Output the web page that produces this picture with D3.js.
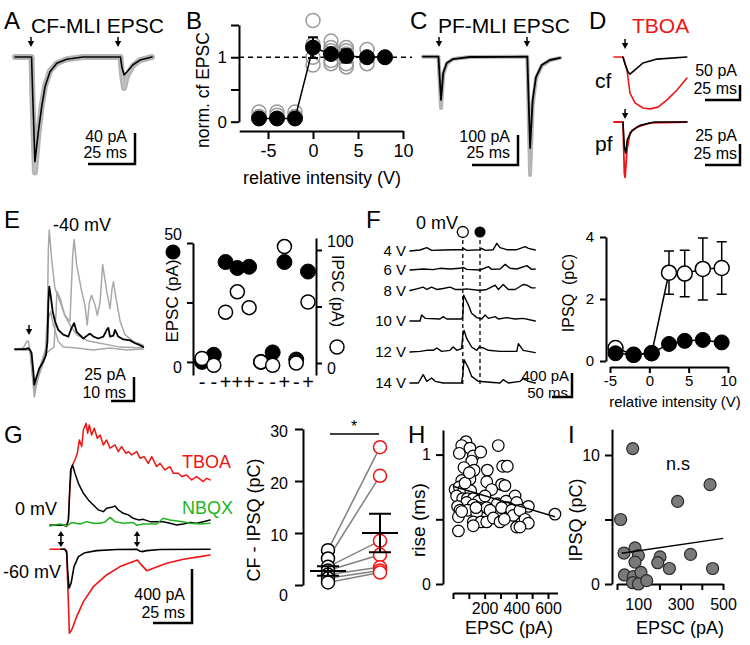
<!DOCTYPE html>
<html><head><meta charset="utf-8">
<script src="https://cdn.jsdelivr.net/npm/d3@7"></script>
<style>body{margin:0;background:#fff}svg{display:block}</style>
</head><body>
<svg id="fig" width="750" height="645"></svg>
<script>
// ---------------- DATA ----------------
// Panel A: CF-MLI EPSC (ms, pA)
const aStim = [8.5, 54.8];
const aBlack = [[0,0],[8.8,0],[9.2,-33],[10.6,-135],[12.4,-97],[14.2,-64],[16,-38],[18.6,-19],[22.2,-8],[27.5,-3],[36.2,0],[56.1,0],[56.9,-14],[58,-23],[59.6,-19],[62.8,-10],[66.5,-4],[72.9,0]];
const aGray = [[0,0],[8.8,0],[9.2,-45],[10.6,-149],[12.4,-100],[14.2,-63],[16,-37],[18.6,-18],[22.2,-8],[27.5,-3],[36.2,0],[56.1,0],[56.9,-22],[58,-40],[59.6,-24],[62.8,-11],[66.5,-4],[72.9,0]];
// Panel B
const bX = [-6,-4,-2,0,2,3.7,6,8];
const bMean = [0.05,0.05,0.05,1.15,1.05,1.02,1.0,1.0];
const bSem = [0.02,0.02,0.02,0.16,0.05,0.1,0.04,0.02];
const bCellX = [-6,-6,-4,-4,-2,-2,0,0,0,0,2,2,2,2,2,3.7,3.7,3.7,3.7,3.7,6,6,8];
const bCellY = [0.15,0.08,0.15,0.1,0.15,0.08,1.57,0.88,1.0,1.2,1.25,1.15,0.95,0.9,1.1,1.15,1.05,0.9,0.85,1.1,1.12,0.9,1.0];
// Panel C: PF-MLI EPSC
const cStim = [8.7, 56.5];
const cBlack = [[0,0],[8.4,0],[9.8,-144],[11,-54],[12.9,-21],[16.3,-8],[25.5,-1],[56.7,0],[58.2,-304],[59.6,-144],[61.4,-68],[64.5,-28],[69,-11],[74.5,-4]];
const cGray = [[0,0],[8.4,0],[9.8,-171],[11,-60],[12.9,-23],[16.3,-8],[25.5,-1],[56.7,0],[58.2,-394],[59.6,-160],[61.4,-72],[64.5,-30],[69,-12],[74.5,-4]];
// Panel D
const dStim = [7.9];
const dCfBlack = [[6.4,0],[7.9,-23],[10,-50],[11.4,-57],[15,-43],[20.7,-20],[30.7,-7],[52,0]];
const dCfRed = [[0,0],[6.4,0],[9.3,-43],[11.4,-120],[15,-153],[20.7,-170],[25.7,-173],[31.4,-167],[37.9,-143],[45,-110],[52.1,-70]];
const dPfBlack = [[6.4,0],[7.4,-30],[8.4,-37],[9.5,-21],[12.9,-10],[18.6,-4],[29,0],[52,0]];
const dPfRed = [[0,0],[6.4,0],[7.4,-61],[7.9,-66],[9.3,-33],[11.4,-13],[16.4,-6],[25.7,-1],[52,0]];
// Panel E left: -40 mV traces
const eStim = [6.1];
const eBlack = [[0,1],[4.3,1],[5.8,2],[6.5,0],[7.2,-3],[8,-23],[8.4,-36],[9.1,-30],[10.6,-19],[12.3,-12],[13.5,-5],[14.1,9],[14.5,50],[14.9,66],[15.5,57],[16.4,40],[17.4,30],[18.8,21],[21,16],[23.2,14],[24.6,23],[25.7,28],[26.8,19],[29.7,12],[31.9,16],[32.6,17],[34.1,14],[36.2,12],[38.4,14],[39.9,21],[40.6,23],[41.3,14],[42.8,15],[43.5,21],[44.9,14],[47.1,11],[50,10],[52.2,7],[54.3,5],[55.8,3]];
const eGray1 = [[0,0],[6.5,0],[8.4,-43],[10.9,-23],[13,-9],[14.1,36],[14.5,106],[14.9,125],[15.9,95],[17.4,64],[19.6,50],[21.7,36],[23.9,30],[25.1,99],[25.7,115],[26.8,89],[29,61],[30.4,47],[31.4,26],[32.3,49],[33.3,57],[34.8,47],[35.8,36],[37,50],[38.1,89],[39.9,61],[41.3,43],[42.2,64],[42.8,71],[43.9,54],[45.7,30],[47.8,16],[51.4,9],[55.8,5]];
const eGray2 = [[0,0],[6.5,0],[8.4,-49],[10.1,-26],[13,-5],[15.2,0],[17,3],[17.4,26],[17.8,36],[18.2,61],[19.6,54],[21.7,36],[23.9,26],[26.8,16],[31.2,10],[37,7],[45.7,3],[55.8,2]];
const eGray3 = [[0,0],[3.6,2],[5.1,9],[5.8,9],[6.5,0],[8.4,-40],[11.6,-12],[13.8,5],[14.6,33],[15.5,40],[16.7,26],[18.8,9],[21,3],[26.8,2],[34,0],[41.3,2],[48.6,0],[55.8,1]];
// Panel E right
const eSigns = ["-","-","+","+","+","-","-","+","-","+"];
const eEPSC = [0,3,42,39.5,40,0,4,42,1,38];
const eIPSC = [4,-2,45,63,49,1,-2,103,0,54];
// Panel F left: 0 mV traces at stimulus intensities
const fLabels = ["4 V","6 V","8 V","10 V","12 V","14 V"];
const fMarks = [132, 175];
const fTr4 = [[0,0],[25,17],[42,56],[54,11],[83,17],[108,22],[129,22],[133,44],[142,11],[175,22],[179,44],[188,11],[208,22],[217,128],[225,56],[242,22],[267,22],[288,72],[296,44],[313,17]];
const fTr6 = [[0,0],[33,17],[58,6],[75,28],[100,17],[125,28],[133,44],[142,11],[175,0],[196,56],[204,11],[225,17],[238,94],[250,28],[267,17],[292,72],[304,11],[313,17]];
const fTr8 = [[0,0],[17,28],[33,56],[42,17],[54,56],[67,17],[83,33],[100,56],[113,17],[129,17],[142,28],[175,0],[192,17],[213,89],[221,17],[233,100],[246,17],[263,17],[283,100],[292,89],[304,44],[313,44]];
const fTr10 = [[0,0],[25,0],[29,100],[38,44],[75,33],[83,72],[92,33],[117,33],[129,33],[132,72],[134,434],[146,267],[154,128],[167,56],[179,33],[188,100],[196,44],[213,72],[221,33],[242,56],[263,33],[283,44],[313,0]];
const fTr12 = [[0,0],[25,11],[42,28],[58,28],[67,67],[79,11],[100,28],[108,83],[117,28],[129,56],[132,278],[135,361],[142,222],[154,83],[167,28],[173,83],[183,67],[196,28],[225,11],[267,11],[271,139],[283,28],[313,-11]];
const fTr14 = [[0,0],[21,0],[33,139],[42,28],[54,83],[63,28],[83,0],[129,0],[132,139],[135,389],[146,250],[154,111],[171,28],[192,17],[225,0],[233,56],[246,0],[275,28],[283,72],[296,28],[313,0]];
// Panel F right
const fInt = [-4.3,-2,0.3,2.5,4.5,6.8,9.2];
const fFilled = [0.25,0.2,0.25,0.55,0.65,0.68,0.6];
const fOpen = [0.42,0.2,0.25,2.85,2.82,2.97,3.0];
const fOpenErr = [0,0,0,0.7,0.75,1.0,0.85];
// Panel G left
const gStim = [7, 55.8];
const gTboa0 = [[0,0],[8.5,2],[10.7,-10],[11.8,40],[12.8,287],[13.9,435],[16,484],[17.5,533],[18.8,632],[20.3,583],[21.4,706],[23.1,756],[24.1,682],[25.2,743],[26.7,669],[28.4,719],[30.3,645],[32.1,669],[34.2,595],[36.3,632],[38.5,571],[41.7,595],[43.8,546],[45.9,583],[48.7,533],[50.2,546],[52.4,521],[55.6,546],[57.7,497],[60.3,509],[63,459],[65.2,509],[68.4,435],[70.5,459],[73.7,410],[76.9,435],[79.1,385],[82.3,385],[84.4,361],[87.6,373],[90.8,336],[94,361],[98.3,324],[100.4,348],[102.6,336]];
const gCtrl0 = [[0,0],[10.7,0],[11.8,40],[13.2,410],[14.5,447],[16,385],[18.2,311],[21.4,237],[24.6,188],[27.8,151],[31,114],[34.2,101],[36.3,126],[39.5,133],[41.7,143],[43.8,114],[47,89],[50.2,77],[53.4,52],[56.6,40],[59.8,44],[64.1,27],[68.4,27],[72.6,27],[76.9,15],[81.2,2],[85.5,10],[89.7,20],[94,15],[98.3,27],[102.6,40]];
const gNbqx0 = [[0,-5],[6.4,10],[10.7,-5],[13.9,20],[19.2,10],[23.5,27],[27.8,15],[32.1,15],[35.3,25],[38.5,59],[41.7,27],[47,15],[53.4,20],[55.6,0],[59.8,10],[68.4,10],[72.6,52],[76.9,40],[85.2,27],[89.7,15],[96.2,10],[102.6,15]];
const gCtrl60 = [[7,0],[9.6,0],[10.7,-17],[11.3,-153],[12.2,-289],[13.5,-252],[15.4,-128],[18.2,-54],[22.4,-25],[29.9,-10],[42.7,-2],[55.6,0],[57.3,-12],[58.8,-17],[62,-10],[70.5,-2],[102.6,0]];
const gTboa60 = [[0,0],[9.6,0],[10.7,-30],[11.8,-400],[12.4,-622],[13.9,-598],[17.1,-499],[21.4,-388],[27.8,-277],[36.3,-190],[44.9,-128],[53.4,-91],[56,-79],[57.7,-104],[62,-158],[66.2,-141],[74.8,-104],[85.5,-74],[96.2,-54],[102.6,-42]];
// Panel G right: CF-IPSQ (pC)
const gCond = ["ctrl","TBOA"];
const gCtrl = [6.7,5.1,3.5,2.8,2.0,1.3,0.5];
const gTboa = [26.5,21,8.5,5.8,3.4,2.8,2.4];
const gMean = [2.7,10];
const gSem = [0.9,3.7];
// Panel H: rise time vs EPSC
const hEPSC = [82,55,107,40,128,175,286,118,69,133,217,314,343,107,55,213,307,328,13,40,69,112,244,23,61,91,128,160,202,392,86,29,128,160,280,335,402,476,44,91,213,349,307,371,34,149,234,381,423,644,128,177,213,255,297,324,455,476,402,423,34,128,55,76,103,145];
const hRise = [1.10,1.07,1.05,1.01,0.99,1.02,1.07,0.95,0.90,0.88,0.88,0.91,0.91,0.81,0.80,0.79,0.77,0.76,0.73,0.75,0.73,0.72,0.73,0.68,0.66,0.66,0.66,0.64,0.68,0.68,0.63,0.60,0.61,0.59,0.62,0.64,0.63,0.60,0.57,0.57,0.59,0.59,0.59,0.57,0.52,0.55,0.57,0.53,0.57,0.54,0.48,0.48,0.48,0.51,0.48,0.50,0.50,0.47,0.44,0.44,0.41,0.45,0.56,0.78,0.86,0.59];
const hFitX = [0, 644];
const hFitY = [0.755, 0.52];
// Panel I: IPSQ vs EPSC
const iEPSC = [74,17,286,439,33,85,101,85,203,192,247,347,451,35,77,113,74,101,140];
const iIPSQ = [10.5,5.0,6.4,7.7,2.4,2.8,2.2,1.7,2.1,1.65,1.2,2.3,1.2,0.7,0.57,0.9,0.1,0.0,0.26];
const iFitX = [22, 501];
const iFitY = [2.38, 3.54];

// ---------------- DRAWING ----------------
const FONT = '"Liberation Sans", Arial, Helvetica, sans-serif';
const RED = "#f01414", GREEN = "#1fb41f", GRAY = "#a8a8a8";
const svg = d3.select("#fig");

function txt(x, y, s, size, opt = {}) {
  const t = svg.append("text").attr("x", x).attr("y", y).text(s)
    .attr("font-family", FONT).attr("font-size", size)
    .attr("fill", opt.fill || "#000")
    .attr("text-anchor", opt.anchor || "start");
  if (opt.rotate) t.attr("transform", `rotate(${opt.rotate},${x},${y})`);
  return t;
}
function trace(data, xs, ys, color, w, g) {
  (g || svg).append("path").datum(data)
    .attr("d", d3.line().x(d => xs(d[0])).y(d => ys(d[1])))
    .attr("fill", "none").attr("stroke", color).attr("stroke-width", w)
    .attr("stroke-linejoin", "round").attr("stroke-linecap", "round");
}
function stimArrow(x, y) {
  svg.append("line").attr("x1", x).attr("x2", x).attr("y1", y).attr("y2", y + 5)
    .attr("stroke", "#000").attr("stroke-width", 1.5);
  svg.append("path").attr("d", `M${x-3.2},${y+4}L${x+3.2},${y+4}L${x},${y+10}Z`).attr("fill", "#000");
}
function dblArrow(x, y1, y2) {
  svg.append("line").attr("x1", x).attr("x2", x).attr("y1", y1 + 3).attr("y2", y2 - 3)
    .attr("stroke", "#000").attr("stroke-width", 1.5);
  svg.append("path").attr("d", `M${x-3.2},${y1+5}L${x+3.2},${y1+5}L${x},${y1}Z M${x-3.2},${y2-5}L${x+3.2},${y2-5}L${x},${y2}Z`).attr("fill", "#000");
}
function scaleBar(cx, cy, xs, ys, tLen, iLen) {
  const w = Math.abs(xs(tLen) - xs(0)), h = Math.abs(ys(iLen) - ys(0));
  svg.append("path").attr("d", `M${cx - w},${cy}L${cx},${cy}L${cx},${cy - h}`)
    .attr("fill", "none").attr("stroke", "#000").attr("stroke-width", 2.5);
}
function styleAxis(g, size) {
  g.attr("font-family", FONT).attr("font-size", size);
  g.selectAll("path.domain").attr("stroke", "#000").attr("stroke-width", 2);
  g.selectAll(".tick line").attr("stroke", "#000").attr("stroke-width", 2);
  g.selectAll(".tick text").attr("fill", "#000");
  return g;
}
function circles(xsArr, ysArr, xs, ys, r, fill, stroke, sw) {
  svg.append("g").selectAll("circle").data(xsArr.map((v, i) => [v, ysArr[i]])).join("circle")
    .attr("cx", d => xs(d[0])).attr("cy", d => ys(d[1])).attr("r", r)
    .attr("fill", fill).attr("stroke", stroke).attr("stroke-width", sw);
}

// ---- Panel A ----
txt(4, 29, "A", 24);
txt(31, 33, "CF-MLI EPSC", 21);
const xA = d3.scaleLinear().domain([0, 73]).range([15, 15 + 73 * 1.88]);
const yA = d3.scaleLinear().domain([0, -40]).range([57, 88]);
trace(aGray, xA, yA, "#b4b4b4", 6);
trace(aGray, xA, yA, "#c0c0c0", 2);
trace(aBlack, xA, yA, "#000", 1.6);
aStim.forEach(t => stimArrow(xA(t), 37));
scaleBar(135, 164, xA, yA, 25, 40);
txt(127, 142, "40 pA", 16, {anchor: "end"});
txt(127, 158, "25 ms", 16, {anchor: "end"});

// ---- Panel B ----
txt(186, 29, "B", 24);
const xB = d3.scaleLinear().domain([-8.2, 10]).range([239.2, 403]);
const yB = d3.scaleLinear().domain([0, 1.5]).range([121.7, 25]);
styleAxis(svg.append("g").attr("transform", "translate(239,0)")
  .call(d3.axisLeft(yB).tickValues([0, 0.5, 1, 1.5]).tickFormat(d => (d === 0 || d === 1) ? d : "").tickSize(8).tickSizeOuter(0).tickPadding(4)), 17);
styleAxis(svg.append("g").attr("transform", "translate(0,131)")
  .call(d3.axisBottom(xB).tickValues([-5, 0, 5, 10]).tickFormat(d => d).tickSize(8).tickSizeOuter(0).tickPadding(5)), 18);
svg.append("line").attr("x1", 239).attr("x2", 412).attr("y1", yB(1)).attr("y2", yB(1))
  .attr("stroke", "#000").attr("stroke-width", 1.5).attr("stroke-dasharray", "5,4");
circles(bCellX, bCellY, xB, yB, 7, "none", "#9a9a9a", 1.5);
svg.append("path").datum(bX.map((v, i) => [v, bMean[i]]))
  .attr("d", d3.line().x(d => xB(d[0])).y(d => yB(d[1]))).attr("fill", "none").attr("stroke", "#000").attr("stroke-width", 1.5);
bX.forEach((v, i) => {
  const x = xB(v), y1 = yB(bMean[i] + bSem[i]), y2 = yB(bMean[i] - bSem[i]);
  svg.append("path").attr("d", `M${x},${y1}L${x},${y2}M${x-5},${y1}L${x+5},${y1}M${x-5},${y2}L${x+5},${y2}`)
    .attr("stroke", "#000").attr("stroke-width", 2);
});
circles(bX, bMean, xB, yB, 7.5, "#000", "#000", 1);
txt(209, 90, "norm. cf EPSC", 17.5, {anchor: "middle", rotate: -90});
txt(322, 184, "relative intensity (V)", 18, {anchor: "middle"});

// ---- Panel C ----
txt(410, 29, "C", 24);
txt(438, 33, "PF-MLI EPSC", 21);
const xC = d3.scaleLinear().domain([0, 74.5]).range([423, 423 + 74.5 * 1.84]);
const yC = d3.scaleLinear().domain([0, -100]).range([56.7, 86.7]);
trace(cGray, xC, yC, "#b4b4b4", 4);
trace(cBlack, xC, yC, "#000", 1.8);
cStim.forEach(t => stimArrow(xC(t), 37));
scaleBar(518, 165, xC, yC, 25, 100);
txt(510, 142, "100 pA", 16, {anchor: "end"});
txt(510, 158, "25 ms", 16, {anchor: "end"});

// ---- Panel D ----
txt(589, 29, "D", 24);
txt(632, 33, "TBOA", 21, {fill: RED});
const xD = d3.scaleLinear().domain([0, 52]).range([614, 614 + 52 * 1.4]);
const yDcf = d3.scaleLinear().domain([0, -50]).range([57, 72]);
const yDpf = d3.scaleLinear().domain([0, -25]).range([122, 143]);
trace(dCfRed, xD, yDcf, RED, 1.6);
trace(dCfBlack, xD, yDcf, "#000", 1.6);
trace(dPfRed, xD, yDpf, RED, 1.8);
trace(dPfBlack, xD, yDpf, "#000", 1.6);
dStim.forEach(t => { stimArrow(xD(t), 39); stimArrow(xD(t), 109); });
txt(595, 88, "cf", 21);
txt(595, 151, "pf", 21);
scaleBar(740, 100, xD, yDcf, 25, 50);
scaleBar(740, 165, xD, yDpf, 25, 25);
txt(737, 76, "50 pA", 16, {anchor: "end"});
txt(737, 94, "25 ms", 16, {anchor: "end"});
txt(737, 141, "25 pA", 16, {anchor: "end"});
txt(737, 159, "25 ms", 16, {anchor: "end"});

// ---- Panel E left ----
txt(4, 228, "E", 24);
txt(53, 231, "-40 mV", 18);
const xE = d3.scaleLinear().domain([0, 56]).range([15, 15 + 56 * 2.3]);
const yE = d3.scaleLinear().domain([0, 25]).range([350, 326]);
[eGray3, eGray2, eGray1].forEach(d => trace(d, xE, yE, GRAY, 1.5));
trace(eBlack, xE, yE, "#000", 1.8);
eStim.forEach(t => stimArrow(xE(t), 325));
scaleBar(134, 401, xE, yE, 10, 25);
txt(126, 380, "25 pA", 16, {anchor: "end"});
txt(126, 398, "10 ms", 16, {anchor: "end"});

// ---- Panel E right ----
const xCat = d3.scalePoint().domain(d3.range(eSigns.length)).range([202, 308]);
const yEL = d3.scaleLinear().domain([-5.5, 50]).range([375, 243]);
const yER = d3.scaleLinear().domain([-10.6, 110.6]).range([375, 238]);
const axL = styleAxis(svg.append("g").attr("transform", "translate(193,0)")
  .call(d3.axisLeft(yEL).tickValues([0, 25, 50]).tickFormat(d => d === 25 ? "" : d).tickSize(6).tickSizeOuter(0).tickPadding(5)), 16);
axL.selectAll(".tick text").attr("dy", d => d === 50 ? "-0.2em" : "0.65em");
const axR = styleAxis(svg.append("g").attr("transform", "translate(316,0)")
  .call(d3.axisRight(yER).tickValues([0, 50, 100]).tickFormat(d => d === 50 ? "" : d).tickSize(6).tickSizeOuter(0).tickPadding(5)), 16);
axR.selectAll(".tick text").attr("dy", d => d === 100 ? "-0.2em" : "0.65em");
circles(d3.range(10), eEPSC, xCat, yEL, 7.5, "#000", "#000", 1);
circles(d3.range(10), eIPSC, xCat, yER, 7, "#fff", "#000", 1.5);
eSigns.forEach((s, i) => txt(xCat(i), 389, s === "-" ? "-" : "+", 20, {anchor: "middle"}));
svg.append("circle").attr("cx", 173).attr("cy", 252).attr("r", 7.5).attr("fill", "#000");
svg.append("circle").attr("cx", 337).attr("cy", 347).attr("r", 7).attr("fill", "#fff").attr("stroke", "#000").attr("stroke-width", 1.5);
txt(178, 301, "EPSC (pA)", 17, {anchor: "middle", rotate: -90});
txt(332, 291, "IPSC (pA)", 16, {anchor: "middle", rotate: 90});

// ---- Panel F left ----
txt(366, 228, "F", 24);
txt(416, 229, "0 mV", 18);
const xF = d3.scaleLinear().domain([0, 313]).range([410, 410 + 313 * 0.4]);
const yFd = d3.scaleLinear().domain([0, 400]).range([0, -24]);
const fBase = [251, 270, 290.5, 321, 352, 383];
[fTr4, fTr6, fTr8, fTr10, fTr12, fTr14].forEach((tr, i) => {
  trace(tr, xF, v => fBase[i] + yFd(v), "#000", 1.4);
  txt(406, fBase[i] + 5, fLabels[i], 15, {anchor: "end"});
});
fMarks.forEach(t => svg.append("line").attr("x1", xF(t)).attr("x2", xF(t)).attr("y1", 240).attr("y2", 387)
  .attr("stroke", "#000").attr("stroke-width", 1.3).attr("stroke-dasharray", "4,3"));
svg.append("circle").attr("cx", xF(fMarks[0])).attr("cy", 232).attr("r", 5.5).attr("fill", "#fff").attr("stroke", "#000").attr("stroke-width", 1.3);
svg.append("circle").attr("cx", xF(fMarks[1])).attr("cy", 232).attr("r", 5.5).attr("fill", "#000");
scaleBar(572, 397, xF, yFd, 50, 400);
txt(569, 381, "400 pA", 15, {anchor: "end"});
txt(568, 398, "50 ms", 15, {anchor: "end"});

// ---- Panel F right ----
const xFr = d3.scaleLinear().domain([-5, 10]).range([610, 728]);
const yFr = d3.scaleLinear().domain([0, 4]).range([361, 237]);
styleAxis(svg.append("g").attr("transform", "translate(606,0)")
  .call(d3.axisLeft(yFr).tickValues([0, 2, 4]).tickFormat(d => d).tickSize(6).tickSizeOuter(0).tickPadding(6)), 15);
styleAxis(svg.append("g").attr("transform", "translate(0,367)")
  .call(d3.axisBottom(xFr).tickValues([-5, 0, 5, 10]).tickFormat(d => d).tickSize(6).tickSizeOuter(0).tickPadding(2)), 15);
fInt.forEach((v, i) => {
  if (!fOpenErr[i]) return;
  const x = xFr(v), y1 = yFr(fOpen[i] + fOpenErr[i]), y2 = yFr(fOpen[i] - fOpenErr[i]);
  svg.append("path").attr("d", `M${x},${y1}L${x},${y2}M${x-5},${y1}L${x+5},${y1}M${x-5},${y2}L${x+5},${y2}`)
    .attr("stroke", "#000").attr("stroke-width", 1.5);
});
svg.append("path").datum(fInt.map((v, i) => [v, fOpen[i]]))
  .attr("d", d3.line().x(d => xFr(d[0])).y(d => yFr(d[1]))).attr("fill", "none").attr("stroke", "#000").attr("stroke-width", 1.5);
circles(fInt, fOpen, xFr, yFr, 7.5, "#fff", "#000", 1.5);
svg.append("path").datum(fInt.map((v, i) => [v, fFilled[i]]))
  .attr("d", d3.line().x(d => xFr(d[0])).y(d => yFr(d[1]))).attr("fill", "none").attr("stroke", "#000").attr("stroke-width", 1.5);
circles(fInt, fFilled, xFr, yFr, 7.5, "#000", "#000", 1);
txt(574, 293, "IPSQ  (pC)", 16, {anchor: "middle", rotate: -90}).style("white-space", "pre");
txt(675, 407, "relative intensity (V)", 15, {anchor: "middle"});

// ---- Panel G left ----
txt(4, 443, "G", 24);
const xG = d3.scaleLinear().domain([0, 103]).range([50, 50 + 103 * 1.56]);
const yG0 = d3.scaleLinear().domain([0, 400]).range([525.3, 471.3]);
const yG60 = d3.scaleLinear().domain([0, 400]).range([549.3, 495.3]);
trace(gTboa0, xG, yG0, RED, 1.5);
trace(gCtrl0, xG, yG0, "#000", 1.5);
trace(gNbqx0, xG, yG0, GREEN, 1.5);
trace(gTboa60, xG, yG60, RED, 1.6);
trace(gCtrl60, xG, yG60, "#000", 1.6);
gStim.forEach(t => dblArrow(xG(t), 531, 547));
txt(182, 468, "TBOA", 18, {fill: RED});
txt(182, 514, "NBQX", 18, {fill: GREEN});
txt(57, 515, "0 mV", 18, {anchor: "end"});
txt(3, 578, "-60 mV", 18);
scaleBar(192, 623, xG, yG60, 25, 400);
txt(185, 600, "400 pA", 16, {anchor: "end"});
txt(185, 618, "25 ms", 16, {anchor: "end"});

// ---- Panel G right ----
const xGr = d3.scalePoint().domain(gCond).range([328, 380]);
const yGr = d3.scaleLinear().domain([0, 30]).range([585, 429]);
styleAxis(svg.append("g").attr("transform", "translate(303,0)")
  .call(d3.axisLeft(yGr).tickValues([0, 10, 20, 30]).tickSize(8).tickSizeOuter(0).tickPadding(7)), 16)
  .selectAll(".tick text").attr("dy", d => d === 0 ? "0.95em" : "0.45em");
gCtrl.forEach((v, i) => svg.append("line").attr("x1", xGr("ctrl")).attr("y1", yGr(v))
  .attr("x2", xGr("TBOA")).attr("y2", yGr(gTboa[i])).attr("stroke", "#808080").attr("stroke-width", 1.5));
circles(gCtrl.map(() => "ctrl"), gCtrl, xGr, yGr, 6.5, "#fff", "#000", 1.5);
circles(gTboa.map(() => "TBOA"), gTboa, xGr, yGr, 6.5, "#fff", RED, 1.5);
gCond.forEach((c, i) => {
  const x = xGr(c), y = yGr(gMean[i]), y1 = yGr(gMean[i] + gSem[i]), y2 = yGr(gMean[i] - gSem[i]);
  svg.append("path").attr("d", `M${x-18},${y}L${x+18},${y}M${x},${y1}L${x},${y2}M${x-11},${y1}L${x+11},${y1}M${x-11},${y2}L${x+11},${y2}`)
    .attr("stroke", "#000").attr("stroke-width", 2).attr("fill", "none");
});
svg.append("line").attr("x1", 330).attr("x2", 379).attr("y1", 434).attr("y2", 434).attr("stroke", "#000").attr("stroke-width", 1.5);
txt(354, 432, "*", 16, {anchor: "middle"});
txt(260, 520, "CF - IPSQ (pC)", 18, {anchor: "middle", rotate: -90});

// ---- Panel H ----
txt(408, 443, "H", 24);
const xH = d3.scaleLinear().domain([0, 660]).range([453, 453 + 660 * 0.1583]);
const yH = d3.scaleLinear().domain([0, 1.19]).range([584, 430]);
styleAxis(svg.append("g").attr("transform", "translate(443,0)")
  .call(d3.axisLeft(yH).tickValues([0, 0.5, 1]).tickFormat(d => d === 0.5 ? "" : d).tickSize(7).tickSizeOuter(0).tickPadding(5)), 16);
styleAxis(svg.append("g").attr("transform", "translate(0,593)")
  .call(d3.axisBottom(xH).tickValues([0, 100, 200, 300, 400, 500, 600]).tickFormat(d => [200, 400, 600].includes(d) ? d : "").tickSize(6).tickSizeOuter(0).tickPadding(4)), 16);
circles(hEPSC, hRise, xH, yH, 5.8, "#fff", "#000", 1.2);
svg.append("line").attr("x1", xH(hFitX[0])).attr("y1", yH(hFitY[0])).attr("x2", xH(hFitX[1])).attr("y2", yH(hFitY[1]))
  .attr("stroke", "#000").attr("stroke-width", 1.4);
txt(425, 520, "rise (ms)", 19, {anchor: "middle", rotate: -90});
txt(509, 634, "EPSC (pA)", 18, {anchor: "middle"});

// ---- Panel I ----
txt(568, 443, "I", 24);
const xI = d3.scaleLinear().domain([0, 500]).range([617, 723]);
const yI = d3.scaleLinear().domain([0, 12]).range([584, 584 - 12 * 12.9]);
styleAxis(svg.append("g").attr("transform", "translate(612,0)")
  .call(d3.axisLeft(yI).tickValues([0, 5, 10]).tickFormat(d => d === 5 ? "" : d).tickSize(7).tickSizeOuter(0).tickPadding(5)), 16);
styleAxis(svg.append("g").attr("transform", "translate(0,584)")
  .call(d3.axisBottom(xI).tickValues([0, 100, 200, 300, 400, 500]).tickFormat(d => [100, 300, 500].includes(d) ? d : "").tickSize(6).tickSizeOuter(0).tickPadding(9)), 16);
circles(iEPSC, iIPSQ, xI, yI, 6, "#7a7a7a", "#2a2a2a", 1.2);
svg.append("line").attr("x1", xI(iFitX[0])).attr("y1", yI(iFitY[0])).attr("x2", xI(iFitX[1])).attr("y2", yI(iFitY[1]))
  .attr("stroke", "#000").attr("stroke-width", 1.4);
txt(678, 470, "n.s", 18, {anchor: "middle"});
txt(582, 520, "IPSQ (pC)", 18, {anchor: "middle", rotate: -90});
txt(680, 634, "EPSC (pA)", 18, {anchor: "middle"});
</script>
</body></html>
